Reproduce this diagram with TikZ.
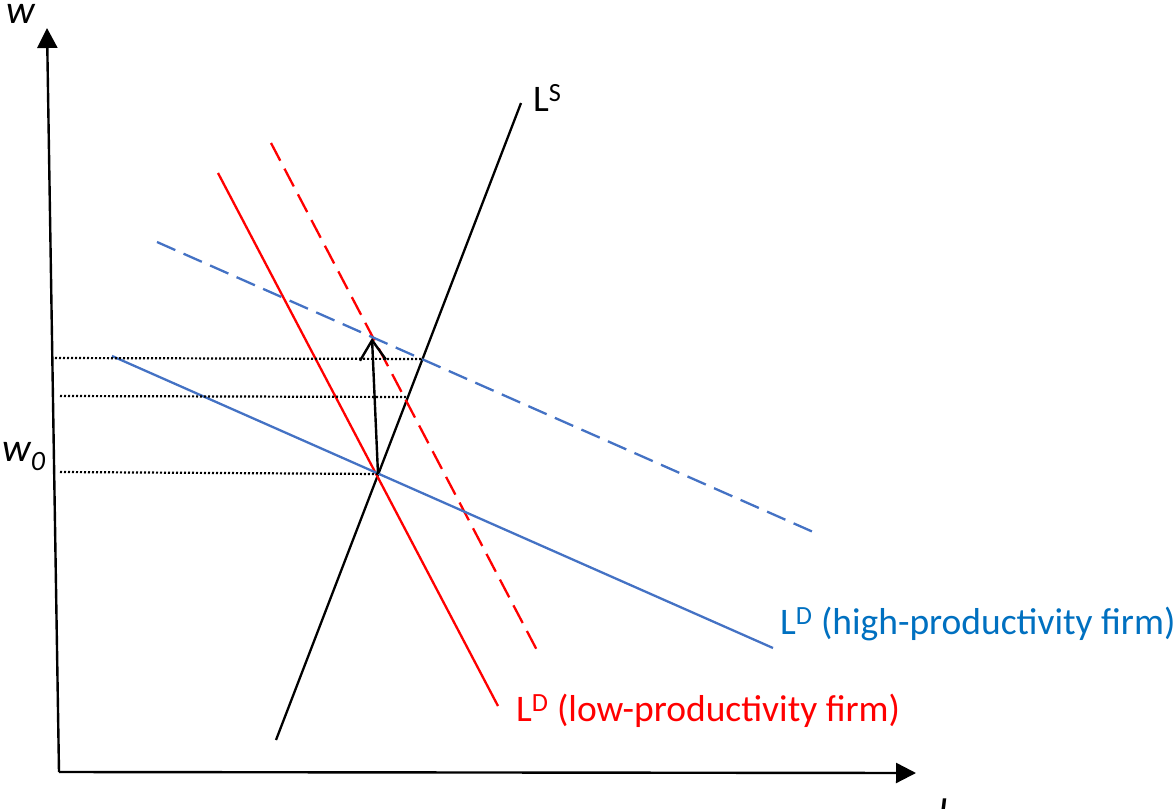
\documentclass[tikz,border=0pt]{standalone}
\usepackage{fontspec}
\setmainfont{Carlito}
\usetikzlibrary{arrows.meta}
\definecolor{lblue}{RGB}{68,114,196}
\definecolor{tblue}{RGB}{0,112,192}
\definecolor{lred}{RGB}{255,0,0}
\tikzset{
  axis/.style={line width=2.4pt, -{Triangle[length=20pt,width=20pt]}},
  curve/.style={line width=2.3pt},
  dashcurve/.style={line width=2.3pt, dash pattern=on 20pt off 9pt},
  guide/.style={line width=2.2pt, dash pattern=on 2pt off 2pt},
  lbl/.style={inner sep=0pt, font=\fontsize{37.5}{44}\selectfont},
  axlbl/.style={inner sep=0pt, font=\fontsize{40}{44}\selectfont\itshape}
}
\begin{document}
\begin{tikzpicture}[x=1pt,y=-1pt]
\useasboundingbox (0,0) rectangle (1176,809);
% axes
\coordinate (O) at (59,772);
\coordinate (Ytop) at (47,28);
\coordinate (Xend) at (916,773);
\draw[axis] (O) -- (Ytop);
\draw[axis] (O) -- (Xend);
\node[axlbl, anchor=base west] (wlab) at (6,23) {w};
\node[axlbl, anchor=base west] (w0lab) at (2,461) {w\textsubscript{0}};
\node[axlbl, anchor=base west] (Llab) at (938,824) {L};
% supply
\coordinate (S1) at (276,740);
\coordinate (S2) at (521,103);
\draw[curve] (S1) -- (S2);
\node[lbl, anchor=base west] (LSlab) at (533,111) {L\textsuperscript{S}};
% demand lines
\coordinate (R1) at (218,173);
\coordinate (R2) at (498,706);
\draw[curve, lred] (R1) -- (R2);
\coordinate (RD1) at (271,143);
\coordinate (RD2) at (540,656);
\draw[dashcurve, lred] (RD1) -- (RD2);
\coordinate (B1) at (112,356);
\coordinate (B2) at (773,648);
\draw[curve, lblue] (B1) -- (B2);
\coordinate (BD1) at (157,242);
\coordinate (BD2) at (820,535);
\draw[dashcurve, lblue] (BD1) -- (BD2);
\node[lbl, text=tblue, anchor=base west] (LDhigh) at (780,634) {L\textsuperscript{D} (high-productivity firm)};
\node[lbl, text=lred, anchor=base west] (LDlow) at (516,721) {L\textsuperscript{D} (low-productivity firm)};
% guides
\coordinate (E) at (378,474);
\coordinate (E2) at (407,397);
\coordinate (E3) at (423,359);
\draw[guide] (60,472) -- (E);
\draw[guide] (60,396) -- (E2);
\draw[guide] (55,358) -- (E3);
% shift arrow
\coordinate (T) at (372,338);
\draw[line width=2.4pt, -{Straight Barb[length=20pt,width=26pt,line width=2.4pt]}] (E) -- (T);
\end{tikzpicture}
\end{document}
